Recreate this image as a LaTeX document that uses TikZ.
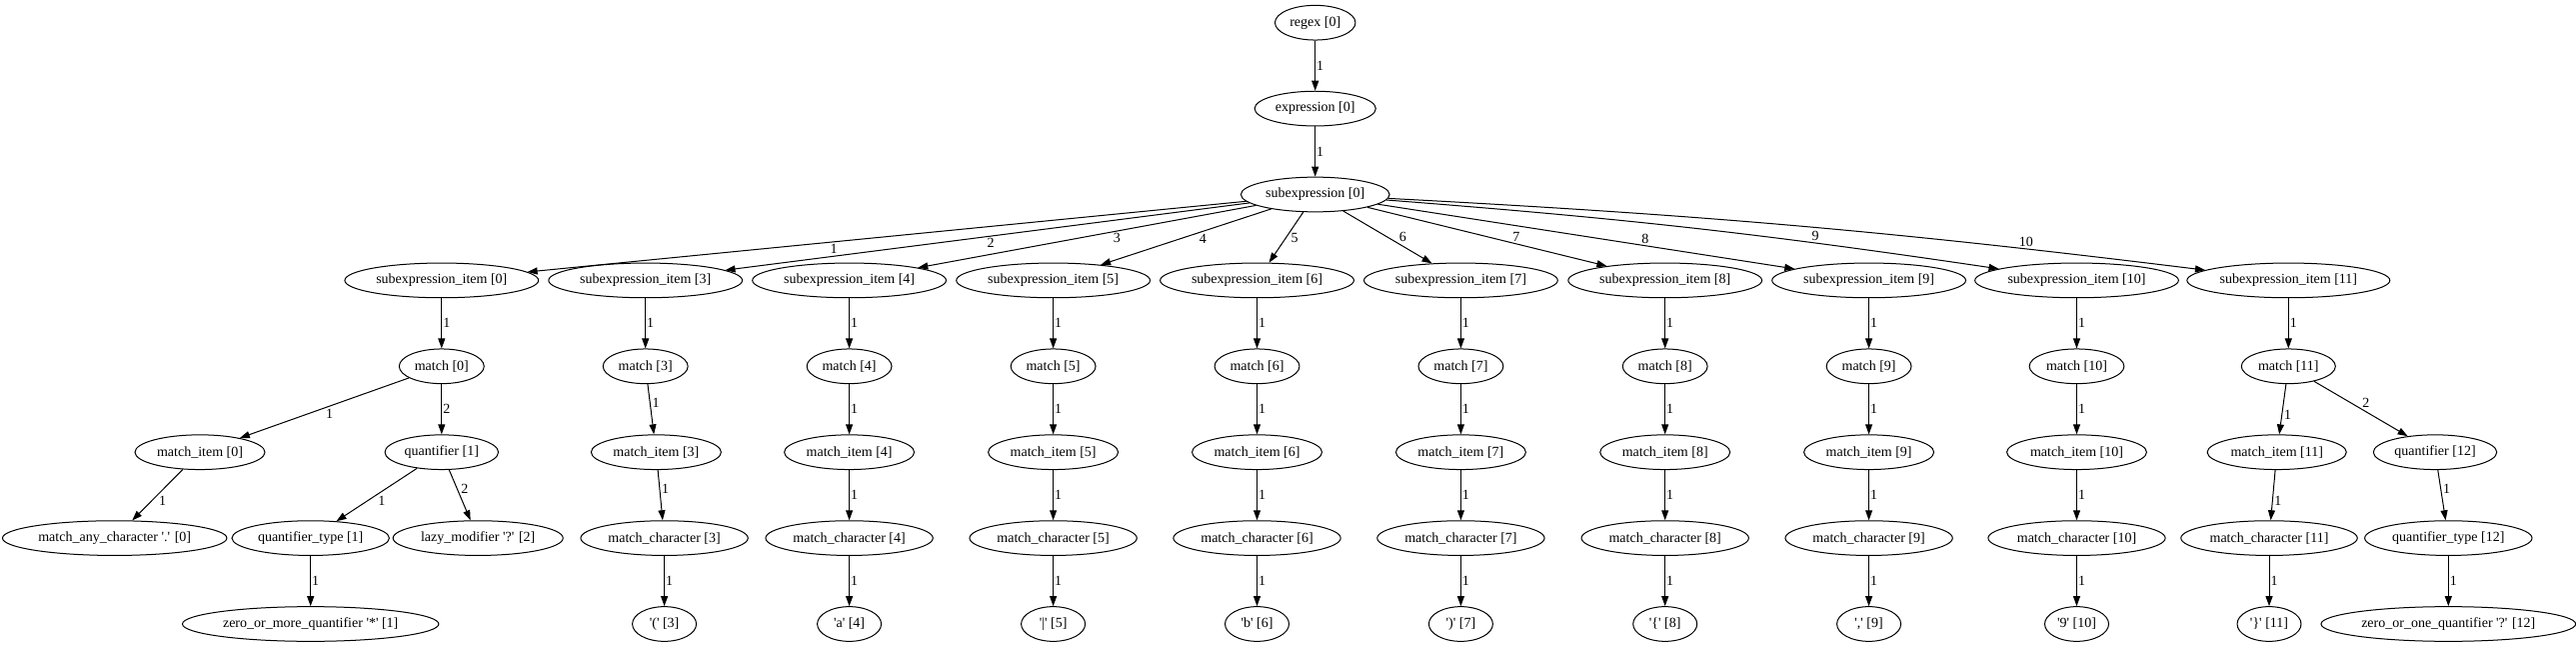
\documentclass[tikz,border=0pt]{standalone}
\usepackage{fontspec}
\setmainfont{Liberation Serif}
\usetikzlibrary{chains,positioning,shapes.geometric,arrows.meta}
\newcommand\squote{\textquotesingle}

\begin{document}
\begin{tikzpicture}[
  x=1pt, y=1pt,
  node distance=85.9pt, on grid,
  font=\fontsize{14}{17}\selectfont,
  tn/.style={draw, ellipse, line width=1pt, minimum width=64pt, minimum height=34.7pt, inner xsep=3pt, inner ysep=1pt},
  arc/.style={-{Triangle[length=10pt,width=7pt]}, line width=1pt},
  lab/.style={auto, inner sep=1pt},
  elab/.style={edge node={node [lab] {#1}}},
  every join/.style={arc, elab=1}
]
  \useasboundingbox (0,0) rectangle (2577,646);
  % parse tree of the regex, one chain per column
  \begin{scope}[start chain=col going below]
    \node [tn, on chain] (regex0) at (1315.7,623.3) {regex [0]};
    \node [tn, on chain, join] (expr0) {expression [0]};
    \node [tn, on chain, join] (sub0) {subexpression [0]};
  \end{scope}

  \begin{scope}[start chain=col going below]
    \node [tn, on chain] (si0) at (441.8,365.6) {subexpression\_item [0]};
    \node [tn, on chain, join] (m0) {match [0]};
    \node [tn, on chain] (q1) {quantifier [1]};
    \node [tn, on chain, join, xshift=-131.1pt] (qt1) {quantifier\_type [1]};
    \node [tn, on chain, join] (zom1) {zero\_or\_more\_quantifier \squote*\squote{} [1]};
  \end{scope}
  \begin{scope}[start chain=col going below]
    \chainin (m0);
    \node [tn, on chain, join, xshift=-241.8pt] (mi0) {match\_item [0]};
    \node [tn, on chain, join, xshift=-85.3pt] (any0) {match\_any\_character \squote.\squote{} [0]};
  \end{scope}
  \node [tn, below=of q1, xshift=36.4pt] (lazy2) {lazy\_modifier \squote?\squote{} [2]};
  \draw [arc] (m0) -- node [lab] {2} (q1);
  \draw [arc] (q1) -- node [lab] {2} (lazy2);

  \foreach \i/\x/\sa/\sb/\ch in {3/645.7/10.7/8.2/(, 4/849.6/0/0/a, 5/1053.6/0/0/|,
      6/1257.5/0/0/b, 7/1461.4/0/0/), 8/1665.7/0/0/\{, 9/1869.6/0/0/{,},
      10/2077.5/0/0/9, 11/2289.3/-11.6/-7.7/\}}{
    \begin{scope}[start chain=col going below]
      \node [tn, on chain] (si\i) at (\x,365.6) {subexpression\_item [\i]};
      \node [tn, on chain, join] (m\i) {match [\i]};
      \node [tn, on chain, join, xshift=\sa pt] (mi\i) {match\_item [\i]};
      \node [tn, on chain, join, xshift=\sb pt] (mc\i) {match\_character [\i]};
      \node [tn, on chain, join] (ch\i) {\squote\ch\squote{} [\i]};
    \end{scope}
  }

  \begin{scope}[start chain=col going below]
    \chainin (m11);
    \node [tn, on chain, xshift=146.7pt] (q12) {quantifier [12]};
    \node [tn, on chain, join, xshift=13.3pt] (qt12) {quantifier\_type [12]};
    \node [tn, on chain, join] (zoq12) {zero\_or\_one\_quantifier \squote?\squote{} [12]};
  \end{scope}
  \draw [arc] (m11) -- node [lab] {2} (q12);

  \foreach \k/\n/\p/\b in {0/1/0.588/0, 3/2/0.503/0, 4/3/0.419/0, 5/4/0.424/0, 6/5/0.386/0,
      7/6/0.624/0, 8/7/0.610/0, 9/8/0.641/0, 10/9/0.706/2, 11/10/0.786/2}
    \draw [arc] (sub0) to [bend left=\b] node [lab, pos=\p] {\n} (si\k);
\end{tikzpicture}
\end{document}
